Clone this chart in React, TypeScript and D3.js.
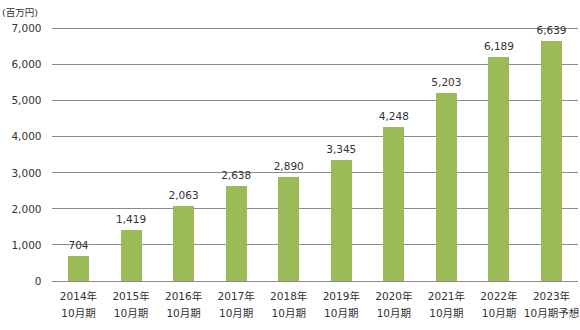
import React from "react";
import * as d3 from "d3";

const years = ["2014年", "2015年", "2016年", "2017年", "2018年", "2019年", "2020年", "2021年", "2022年", "2023年"];
const periods = ["10月期", "10月期", "10月期", "10月期", "10月期", "10月期", "10月期", "10月期", "10月期", "10月期予想"];
const values = [704, 1419, 2063, 2638, 2890, 3345, 4248, 5203, 6189, 6639];
const yTicks = [0, 1000, 2000, 3000, 4000, 5000, 6000, 7000];
const unitLabel = "(百万円)";

const W = 580, H = 330;
const left = 52.2, right = 577.8, top = 28, bottom = 281;
const font = "'DejaVu Sans', 'Noto Sans CJK JP', sans-serif";

export default function App() {
  const x = d3.scaleBand().domain(years).range([left, right]).paddingInner(0.6).paddingOuter(0.3);
  const y = d3.scaleLinear().domain([0, 7000]).range([bottom, top]);
  const fmt = d3.format(",");
  return (
    <svg width={W} height={H} style={{ position: "absolute", left: 0, top: 0 }} fontFamily={font}>
      <text x={2} y={16} fontSize={9.5} fill="#333">{unitLabel}</text>
      {yTicks.map((t) => (
        <g key={t}>
          <line x1={left} x2={right} y1={y(t)} y2={y(t)} stroke="#8c8c8c" strokeWidth={1} shapeRendering="crispEdges" />
          <text x={41.5} y={y(t) + 4} textAnchor="end" fontSize={10.5} fill="#333">{fmt(t)}</text>
        </g>
      ))}
      {values.map((v, i) => {
        const bx = x(years[i])!;
        return (
          <g key={i}>
            <rect x={bx} y={y(v)} width={x.bandwidth()} height={bottom - y(v)} fill="#9BBB59" shapeRendering="crispEdges" />
            <text x={bx + x.bandwidth() / 2} y={y(v) - 7} textAnchor="middle" fontSize={10.5} fill="#333">{fmt(v)}</text>
            <text x={bx + x.bandwidth() / 2} y={300} textAnchor="middle" fontSize={10.5} fill="#333">{years[i]}</text>
            <text x={bx + x.bandwidth() / 2} y={317} textAnchor="middle" fontSize={10.5} fill="#333">{periods[i]}</text>
          </g>
        );
      })}
    </svg>
  );
}
